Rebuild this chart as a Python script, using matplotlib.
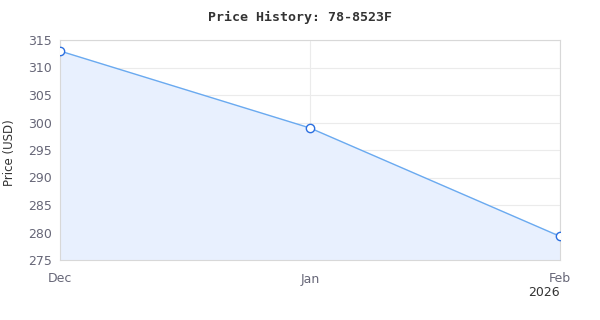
import numpy as np
import matplotlib.pyplot as plt
import matplotlib.dates as mdates
from datetime import datetime

# data
dates = [datetime(2025, 12, 1), datetime(2026, 1, 1), datetime(2026, 2, 1)]
prices = [313.0, 299.0, 279.3]
tick_labels = ['Dec', 'Jan', 'Feb']
yticks = [275, 280, 285, 290, 295, 300, 305, 310, 315]

fig = plt.figure(figsize=(6, 3.2), dpi=100)
ax = fig.add_axes([60/600, 60/320, 500/600, 220/320])

x = mdates.date2num(dates)
ax.fill_between(x, prices, 275, color='#e8f0fe', zorder=1)
ax.plot(x, prices, '-', color='#6aaaf0', lw=1, zorder=3)
ax.plot(x, prices, 'o', ms=6, mfc='white', mec='#2b6fe0', mew=1, zorder=4)

ax.set_xlim(x[0], x[-1])
ax.set_ylim(275, 315)
ax.set_yticks(yticks)
ax.set_xticks(x)
ax.set_xticklabels(tick_labels)
ax.grid(True, color='#ebebeb', lw=0.8, zorder=0)
ax.set_axisbelow(True)
for s in ax.spines.values():
    s.set_color('#d8d8d8')
    s.set_linewidth(0.8)
ax.tick_params(length=0, labelsize=9, colors='#666677', pad=6)
ax.tick_params(axis='x', pad=9)
ax.set_ylabel('Price (USD)', fontsize=8.5, color='#333333', va='center')
ax.yaxis.set_label_coords(-50/500, 0.49)
ax.text(1.0, -0.12, '2026', transform=ax.transAxes, ha='right', va='top',
        fontsize=9, color='#333333')
fig.suptitle('Price History: 78-8523F', x=0.5, y=0.965, fontsize=9.5,
             fontweight='bold', family='DejaVu Sans Mono', color='#333333')

fig.savefig('out.png', dpi=100)
